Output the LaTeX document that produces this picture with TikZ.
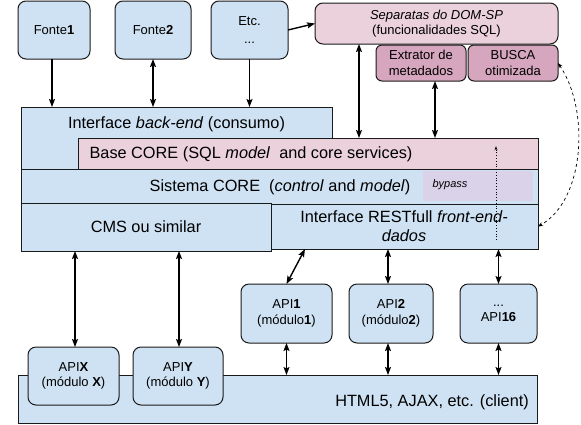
\documentclass[tikz,border=0pt]{standalone}
\usepackage{fontspec}
\setmainfont{Liberation Sans}
\usetikzlibrary{arrows.meta}
\definecolor{lblue}{HTML}{CFE2F3}
\definecolor{lpink}{HTML}{EAD1DC}
\definecolor{mpink}{HTML}{D5A6BD}
\definecolor{lpurp}{HTML}{D9D2E9}
\definecolor{edge}{HTML}{1A1A1A}
\tikzset{
  bigfont/.style={font=\fontsize{16.3}{19}\selectfont},
  smallfont/.style={font=\fontsize{13}{15.5}\selectfont},
  rbox/.style={draw=edge, line width=1pt, rounded corners=8pt, fill=lblue, inner sep=0pt, outer sep=0pt, align=center, smallfont},
  layer/.style={draw=edge, line width=1pt, fill=lblue, inner sep=0pt, outer sep=0pt, anchor=north west},
  lbl/.style={inner sep=0pt, align=center, bigfont},
  conn/.style={line width=1.4pt, -{Stealth[length=8pt,width=6pt,inset=1.5pt]}},
  dconn/.style={line width=1.4pt, {Stealth[length=8pt,width=6pt,inset=1.5pt]}-{Stealth[length=8pt,width=6pt,inset=1.5pt]}},
}
\begin{document}
\begin{tikzpicture}[x=1pt,y=-1pt]
\useasboundingbox (0,0) rectangle (581,424);
% top sources
\node[rbox, minimum width=72, minimum height=58] (f1) at (54,30) {Fonte\textbf{1}};
\node[rbox, minimum width=76, minimum height=58] (f2) at (153,30) {Fonte\textbf{2}};
\node[rbox, minimum width=77, minimum height=58] (etc) at (249.5,30) {Etc.\\[2pt]...};
\node[rbox, fill=lpink, minimum width=243, minimum height=41] (sep) at (436.5,23.5) {\textit{Separatas do DOM-SP}\\(funcionalidades SQL)};
\node[rbox, fill=mpink, rounded corners=6pt, minimum width=90, minimum height=36] (ext) at (421,63) {Extrator de\\metadados};
\node[rbox, fill=mpink, rounded corners=6pt, minimum width=90, minimum height=36] (busca) at (513,63) {BUSCA\\otimizada};
% layers
\node[layer, minimum width=311, minimum height=63] (back) at (21,107) {};
\node[lbl] (backt) at (176.5,124) {Interface \textit{back-end} (consumo)};
\node[layer, fill=lpink, minimum width=460, minimum height=31] (base) at (78,138) {};
\node[lbl] (baset) at (251,154) {Base CORE (SQL \textit{model}\ \ and core services)};
\node[layer, minimum width=517, minimum height=35] (sis) at (21,169) {};
\node[fill=lpurp, inner sep=0pt, minimum width=110, minimum height=30, anchor=north west] (byp) at (423,170.5) {};
\node[inner sep=0pt, font=\fontsize{11}{13}\selectfont\itshape] (bypt) at (450,185) {bypass};
\node[lbl] (sist) at (280,187) {Sistema CORE\ \ (\textit{control} and \textit{model})};
\node[layer, minimum width=267, minimum height=45] (rest) at (271,204) {};
\node[lbl] (restt) at (404,226) {Interface RESTfull \textit{front-end-}\\\textit{dados}};
\node[layer, minimum width=250, minimum height=48] (cms) at (21,203) {};
\node[lbl] (cmst) at (146,227) {CMS ou similar};
\node[layer, minimum width=519, minimum height=48] (html) at (18,375) {};
\node[lbl, anchor=east] (htmlt) at (529,402) {HTML5, AJAX, etc. (client)};
% APIs
\node[rbox, minimum width=91, minimum height=59] (api1) at (286.5,313.5) {API\textbf{1}\\(módulo\textbf{1})};
\node[rbox, minimum width=84, minimum height=59] (api2) at (391,313.5) {API\textbf{2}\\(módulo\textbf{2})};
\node[rbox, minimum width=77, minimum height=59] (api16) at (498.5,313.5) {...\\API\textbf{16}};
\node[rbox, minimum width=91, minimum height=58] (apix) at (73.5,376) {API\textbf{X}\\(módulo \textbf{X})};
\node[rbox, minimum width=90, minimum height=58] (apiy) at (178,376) {API\textbf{Y}\\(módulo \textbf{Y})};
% connectors
\draw[conn] (f1.south -| 52,0) -- (back.north -| 52,0);
\draw[dconn] (f2.south) -- (f2.south |- back.north);
\draw[conn] (etc.south) -- (etc.south |- back.north);
\draw[conn] (etc.east) -- (sep.west);
\draw[dconn] (sep.south -| 359,0) -- (base.north -| 359,0);
\draw[dconn] (ext.south -| 435,0) -- (base.north -| 435,0);
\draw[dashed, line width=0.7pt, {Stealth[length=5pt,width=4pt]}-{Stealth[length=5pt,width=4pt]}] (busca.east) .. controls (590,110) and (585,200) .. (rest.east);
\coordinate (dotS) at (496,240);
\draw[dotted, line width=0.8pt, -{Stealth[length=4pt,width=3pt]}] (dotS) -- (dotS |- baset.north);
\draw[dconn] (apix.north -| 75,0) -- (cms.south -| 75,0);
\draw[dconn] (apiy.north -| 179,0) -- (cms.south -| 179,0);
\draw[dconn] (api1.north) -- (rest.south -| 305,0);
\draw[dconn] (api2.north -| 388,0) -- (rest.south -| 388,0);
\draw[dconn] (api16.north) -- (api16.north |- rest.south);
\draw[dconn] (api1.south) -- (api1.south |- html.north);
\draw[dconn] (api2.south -| 388,0) -- (html.north -| 388,0);
\draw[dconn] (api16.south) -- (api16.south |- html.north);
\end{tikzpicture}
\end{document}
